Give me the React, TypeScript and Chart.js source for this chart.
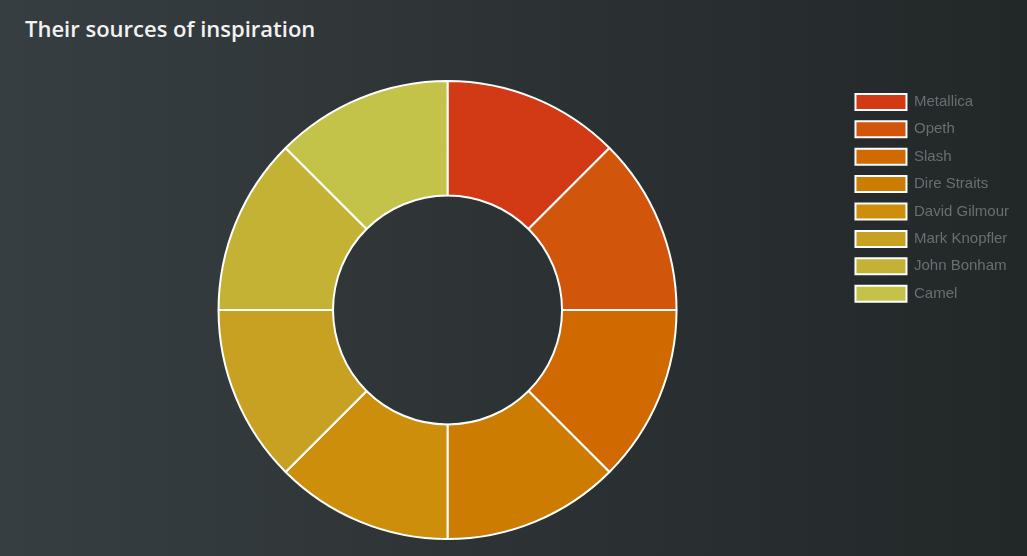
import React, { useEffect, useRef } from "react";
import { Chart, registerables } from "chart.js";

Chart.register(...registerables);

const TITLE = "Their sources of inspiration";
const labels = [
  "Metallica",
  "Opeth",
  "Slash",
  "Dire Straits",
  "David Gilmour",
  "Mark Knopfler",
  "John Bonham",
  "Camel",
];
const values = [1, 1, 1, 1, 1, 1, 1, 1];
const colors = [
  "#d13a15",
  "#d1550b",
  "#cf6900",
  "#cc7c00",
  "#cc8e0b",
  "#c8a022",
  "#c4b234",
  "#c2c348",
];

export default function App() {
  const ref = useRef<HTMLCanvasElement | null>(null);

  useEffect(() => {
    if (!ref.current) return;
    const chart = new Chart(ref.current, {
      type: "doughnut",
      data: {
        labels,
        datasets: [
          {
            data: values,
            backgroundColor: colors,
            borderColor: "#ffffff",
            borderWidth: 2,
          },
        ],
      },
      options: {
        responsive: false,
        animation: false,
        devicePixelRatio: 1,
        cutout: "50%",
        layout: { padding: { left: 51, right: 8, top: 80, bottom: 16 } },
        plugins: {
          title: { display: false },
          tooltip: { enabled: false },
          legend: {
            display: true,
            position: "right",
            align: "start",
            title: {
              display: true,
              text: " ",
              padding: 0,
              font: { size: 2.5, lineHeight: 1 },
            },
            labels: {
              boxWidth: 51,
              boxHeight: 16,
              padding: 11.4,
              color: "#6a6e71",
              font: { family: "'Liberation Sans', Arial, sans-serif", size: 15 },
            },
          },
        },
      },
    });
    return () => chart.destroy();
  }, []);

  return (
    <div
      style={{
        position: "fixed",
        left: 0,
        top: 0,
        width: 1027,
        height: 556,
        background: "linear-gradient(to right, #373e41, #222728)",
        overflow: "hidden",
      }}
    >
      <div
        style={{
          position: "absolute",
          left: 25,
          top: 16,
          lineHeight: "24px",
          fontFamily: "'Open Sans', Roboto, sans-serif",
          fontSize: 22,
          fontWeight: 600,
          color: "#f2f2f2",
          whiteSpace: "nowrap",
        }}
      >
        {TITLE}
      </div>
      <canvas
        ref={ref}
        width={1027}
        height={556}
        style={{ position: "absolute", left: 0, top: 0, width: 1027, height: 556 }}
      />
    </div>
  );
}
